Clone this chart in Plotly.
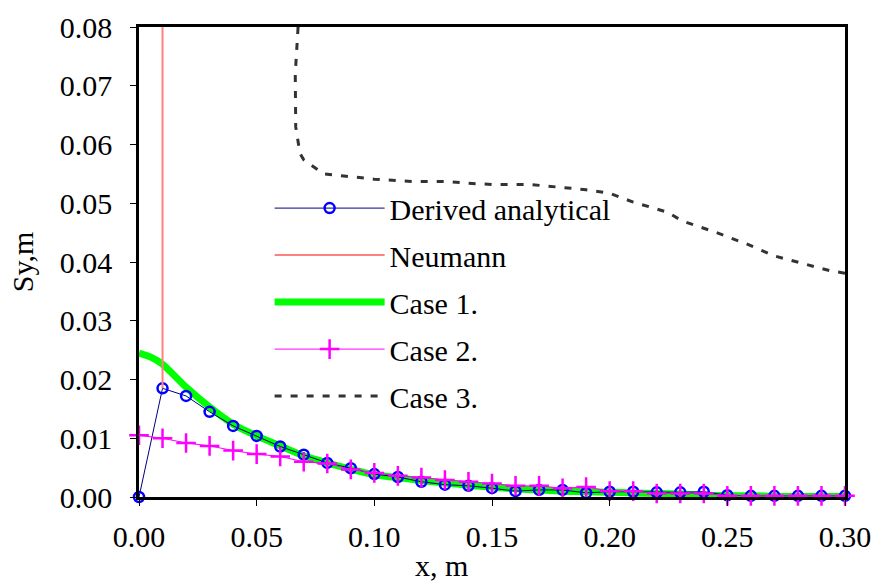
import plotly.graph_objects as go

# ---- data ----
x_grid = [round(0.01 * i, 2) for i in range(31)]

derived_y = [0.0, 0.0185, 0.0172, 0.0145, 0.0121, 0.0104, 0.0086, 0.0072, 0.0058, 0.0049,
             0.0039, 0.0034, 0.0026, 0.0021, 0.0019, 0.0015, 0.0010, 0.0012, 0.0012, 0.0007,
             0.0009, 0.0009, 0.0008, 0.0008, 0.0009, 0.0003, 0.0002, 0.0002, 0.0002, 0.0002,
             0.0002]

neumann_x = [0.01, 0.01]
neumann_y = [0.0185, 0.08]

case1_x = [0.0, 0.005, 0.01, 0.02, 0.03, 0.04, 0.05, 0.06, 0.07, 0.08, 0.09, 0.10, 0.11,
           0.12, 0.13, 0.14, 0.15, 0.16, 0.17, 0.18, 0.19, 0.20, 0.21, 0.22, 0.23, 0.24,
           0.25, 0.26, 0.27, 0.28, 0.29, 0.30]
case1_y = [0.0245, 0.0238, 0.0226, 0.0187, 0.0153, 0.0124, 0.0104, 0.0087, 0.0070, 0.0058,
           0.0047, 0.0038, 0.0033, 0.0028, 0.0024, 0.0020, 0.0017, 0.0014, 0.0012, 0.0010,
           0.0009, 0.0008, 0.0007, 0.0006, 0.0005, 0.0003, 0.0002, 0.0002, 0.0001, 0.0001,
           0.0001, 0.0001]

case2_y = [0.0105, 0.0100, 0.0092, 0.0087, 0.0079, 0.0073, 0.0069, 0.0060, 0.0057, 0.0047,
           0.0041, 0.0036, 0.0033, 0.0029, 0.0026, 0.0023, 0.0019, 0.0019, 0.0015, 0.0017,
           0.0010, 0.0010, 0.0006, 0.0006, 0.0006, 0.0002, 0.0002, 0.0002, 0.0002, 0.0002,
           0.0002]

case3_x = [0.0676, 0.0664, 0.0666, 0.0684, 0.0700, 0.0740, 0.0785, 0.0880, 0.1000, 0.1165,
           0.1310, 0.1400, 0.1500, 0.1660, 0.1800, 0.1900, 0.2000, 0.2100, 0.2244, 0.2308,
           0.2448, 0.2580, 0.2703, 0.2843, 0.2937, 0.3000]
case3_y = [0.0800, 0.0720, 0.0630, 0.0585, 0.0574, 0.0563, 0.0550, 0.0546, 0.0541, 0.0537,
           0.0537, 0.0534, 0.0532, 0.0532, 0.0527, 0.0523, 0.0517, 0.0502, 0.0485, 0.0470,
           0.0451, 0.0431, 0.0410, 0.0395, 0.0385, 0.0381]

FONT = "Liberation Serif, Times New Roman, serif"
FS = 30

fig = go.Figure()

fig.add_trace(go.Scatter(
    x=case1_x, y=case1_y, mode="lines", name="Case 1.",
    line=dict(color="#00FF00", width=7, shape="spline", smoothing=0.6),
    legendrank=3, legendgroup="c1"))

fig.add_trace(go.Scatter(
    x=x_grid, y=derived_y, mode="lines+markers", name="Derived analytical",
    line=dict(color="#000080", width=1),
    marker=dict(symbol="circle-open", size=10, color="#0000FF", line=dict(width=2.5, color="#0000FF")),
    cliponaxis=False, legendrank=1, legendgroup="d"))

fig.add_trace(go.Scatter(
    x=neumann_x, y=neumann_y, mode="lines", name="Neumann",
    line=dict(color="#FF8080", width=2),
    legendrank=2, legendgroup="n"))

fig.add_trace(go.Scatter(
    x=x_grid, y=case2_y, mode="lines+markers", name="Case 2.",
    line=dict(color="#FF00FF", width=1),
    marker=dict(symbol="cross-thin-open", size=14, color="#FF00FF", line=dict(width=2.5, color="#FF00FF")),
    cliponaxis=False, legendrank=4, legendgroup="c2"))

fig.add_trace(go.Scatter(
    x=case3_x, y=case3_y, mode="lines", name="Case 3.",
    line=dict(color="#333333", width=3, dash="7px,9px"),
    legendrank=5, legendgroup="c3"))

axis_common = dict(
    showline=True, linecolor="black", linewidth=2.5, mirror=True,
    ticks="outside", ticklen=6, tickwidth=1, tickcolor="black",
    showgrid=False, zeroline=False, automargin=False,
    ticklabeloverflow="allow",
    tickfont=dict(family=FONT, size=FS, color="black"),
)

fig.update_layout(
    width=871, height=581,
    margin=dict(l=139, r=26, t=27, b=84),
    paper_bgcolor="white", plot_bgcolor="white",
    font=dict(family=FONT, size=FS, color="black"),
    xaxis=dict(range=[0, 0.30], dtick=0.05, tick0=0, tickformat=".2f",
               ticklabelstandoff=5,
               **axis_common),
    yaxis=dict(range=[0, 0.08], dtick=0.01, tick0=0, tickformat=".2f",
               ticklabelstandoff=12,
               title=dict(text="Sy,m", font=dict(family=FONT, size=FS), standoff=18),
               **axis_common),
    legend=dict(x=0.185, y=0.67, xanchor="left", yanchor="top",
                bgcolor="rgba(0,0,0,0)", borderwidth=0,
                font=dict(family=FONT, size=FS, color="black"),
                itemwidth=110, tracegroupgap=5, traceorder="grouped"),
    showlegend=True,
    annotations=[dict(text="x, m", xref="paper", yref="paper", x=0.428, y=-0.1447,
                      xanchor="center", yanchor="middle", showarrow=False,
                      font=dict(family=FONT, size=FS, color="black"))],
)

fig.write_html("out.html")
